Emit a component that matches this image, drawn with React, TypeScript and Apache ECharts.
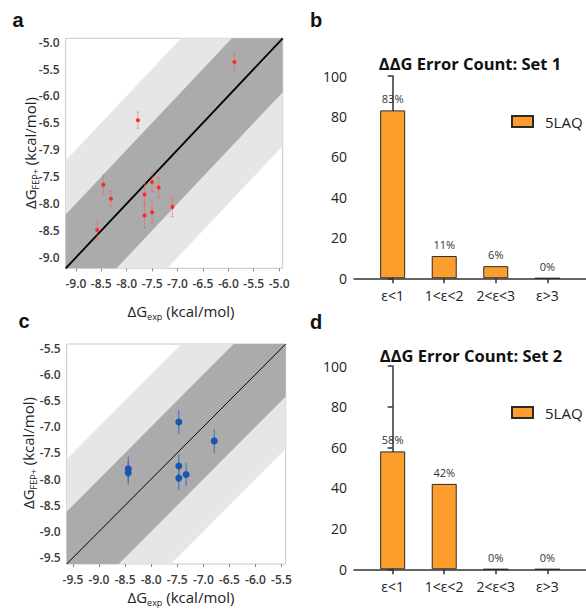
import React, { useEffect, useRef } from "react";
import * as echarts from "echarts";

// ---------- Panel a data (red) ----------
const expA = [-5.88, -7.78, -8.46, -8.31, -8.58, -7.65, -7.65, -7.5, -7.5, -7.37, -7.1];
const fepA = [-5.37, -6.45, -7.65, -7.91, -8.49, -7.83, -8.22, -7.6, -8.16, -7.7, -8.06];
const errA = [0.17, 0.15, 0.18, 0.15, 0.17, 0.21, 0.23, 0.18, 0.2, 0.18, 0.18];
const rangeA = [-9.2, -4.93];
const tickValsA = [-9.0, -8.5, -8.0, -7.5, -7.0, -6.5, -6.0, -5.5, -5.0];
const xTickLabelsA = ["-9.0", "-8.5", "-8.0", "-7.5", "-7.0", "-6.5", "-6.0", "-5.5", "-5.0"];
const yTickLabelsA = ["-9.0", "-8.5", "-8.0", "-7.5", "-7.9", "-6.5", "-6.0", "-5.5", "-5.0"];

// ---------- Panel c data (blue) ----------
const expC = [-7.47, -6.79, -8.44, -8.44, -7.47, -7.47, -7.33];
const fepC = [-6.91, -7.27, -7.8, -7.88, -7.75, -7.98, -7.91];
const errC = [0.23, 0.23, 0.23, 0.23, 0.23, 0.23, 0.22];
const rangeC = [-9.62, -5.42];
const tickValsC = [-9.5, -9.0, -8.5, -8.0, -7.5, -7.0, -6.5, -6.0, -5.5];
const tickLabelsC = ["-9.5", "-9.0", "-8.5", "-8.0", "-7.5", "-7.0", "-6.5", "-6.0", "-5.5"];

// error bands (kcal/mol half-widths)
const bandHalfWidths = [2, 1];

// ---------- Bar panels ----------
const categories = ["ε<1", "1<ε<2", "2<ε<3", "ε>3"];
const set1 = [83, 11, 6, 0];
const set2 = [58, 42, 0, 0];
const barTicks = [0, 20, 40, 60, 80, 100];
const seriesName = "5LAQ";

const FONT = "'Open Sans', 'Noto Sans', sans-serif";
const LETTER_FONT = "'Liberation Sans', Arial, sans-serif";
const BAND_COLORS = ["#e6e6e6", "#ababab"];
const ORANGE = "#fd9e2c";

const labelFrom = (vals: number[], labels: string[]) => (v: number) => {
  const i = vals.findIndex((t) => Math.abs(t - v) < 1e-6);
  return i >= 0 ? labels[i] : "";
};

function scatterAxes(gi: number, range: number[], vals: number[], xl: string[], yl: string[]) {
  const common = {
    gridIndex: gi,
    type: "value",
    min: range[0],
    max: range[1],
    axisLine: { show: false },
    splitLine: { show: false },
  };
  const labelStyle = { fontSize: 12, fontWeight: 600, color: "#3a3a3a", fontFamily: FONT };
  return {
    x: {
      ...common,
      axisTick: { show: true, customValues: vals, length: 3, lineStyle: { color: "#888" } },
      axisLabel: { ...labelStyle, customValues: vals, formatter: labelFrom(vals, xl), margin: 9 },
    },
    y: {
      ...common,
      axisTick: { show: false, customValues: vals },
      axisLabel: { ...labelStyle, customValues: vals, formatter: labelFrom(vals, yl), margin: 6 },
    },
  };
}

function scatterSeries(gi: number, range: number[], xs: number[], ys: number[], es: number[], color: string, barColor: string, size: number, lineW: number, cap: number) {
  const lo = range[0];
  const hi = range[1];
  return [
    {
      type: "custom",
      xAxisIndex: gi,
      yAxisIndex: gi,
      z: 1,
      silent: true,
      data: bandHalfWidths.map((h) => [h]),
      renderItem: (params: any, api: any) => {
        const h = api.value(0);
        const pts = [
          [lo, lo],
          [lo, lo + h],
          [hi - h, hi],
          [hi, hi],
          [hi, hi - h],
          [lo + h, lo],
        ].map((p) => api.coord(p));
        return {
          type: "polygon",
          shape: { points: pts },
          style: { fill: BAND_COLORS[params.dataIndex], stroke: null },
        };
      },
    },
    {
      type: "line",
      xAxisIndex: gi,
      yAxisIndex: gi,
      z: 2,
      symbol: "none",
      silent: true,
      data: [
        [lo, lo],
        [hi, hi],
      ],
      lineStyle: { color: "#000", width: lineW },
    },
    {
      type: "custom",
      xAxisIndex: gi,
      yAxisIndex: gi,
      z: 3,
      silent: true,
      data: xs.map((x, i) => [x, ys[i], es[i]]),
      renderItem: (params: any, api: any) => {
        const x = api.value(0);
        const y = api.value(1);
        const e = api.value(2);
        const p1 = api.coord([x, y - e]);
        const p2 = api.coord([x, y + e]);
        const st = { stroke: barColor, lineWidth: 1 };
        const children: any[] = [
          { type: "line", shape: { x1: p1[0], y1: p1[1], x2: p2[0], y2: p2[1] }, style: st },
        ];
        if (cap > 0) {
          children.push({ type: "line", shape: { x1: p1[0] - cap, y1: p1[1], x2: p1[0] + cap, y2: p1[1] }, style: st });
          children.push({ type: "line", shape: { x1: p2[0] - cap, y1: p2[1], x2: p2[0] + cap, y2: p2[1] }, style: st });
        }
        return { type: "group", children };
      },
    },
    {
      type: "scatter",
      xAxisIndex: gi,
      yAxisIndex: gi,
      z: 4,
      symbolSize: size,
      itemStyle: { color, opacity: 1 },
      data: xs.map((x, i) => [x, ys[i]]),
    },
  ];
}

function barAxes(gi: number) {
  return {
    x: {
      gridIndex: gi,
      type: "value",
      min: -0.75,
      max: 3.75,
      splitLine: { show: false },
      axisLine: { show: true, lineStyle: { color: "#333", width: 1.5 } },
      axisTick: { show: true, customValues: [0, 1, 2, 3], length: 5, lineStyle: { color: "#333", width: 1.5 } },
      axisLabel: {
        customValues: [0, 1, 2, 3],
        formatter: (v: number) => categories[Math.round(v)] ?? "",
        fontSize: 14,
        color: "#222",
        fontFamily: FONT,
        margin: 10,
      },
    },
    y: {
      gridIndex: gi,
      type: "value",
      min: 0,
      max: 100,
      interval: 20,
      splitLine: { show: false },
      axisLine: { show: true, lineStyle: { color: "#333", width: 1.5 } },
      axisTick: { show: true, length: 5, lineStyle: { color: "#333", width: 1.5 } },
      axisLabel: {
        customValues: barTicks,
        fontSize: 14,
        color: "#222",
        fontFamily: FONT,
        margin: 7,
      },
    },
  };
}

function barSeries(gi: number, values: number[]) {
  return {
    type: "bar",
    name: seriesName,
    xAxisIndex: gi,
    yAxisIndex: gi,
    barWidth: 25,
    data: values.map((v, i) => [i, v]),
    itemStyle: { color: ORANGE, borderColor: "#2a2a2a", borderWidth: 1 },
    label: {
      show: true,
      position: "top",
      distance: 6,
      formatter: (p: any) => p.value[1] + "%",
      fontSize: 11,
      color: "#333",
      fontFamily: FONT,
    },
  };
}

const axisTitle = (sub: string) => ({
  text: `{n|ΔG}{s|${sub}}{n| (kcal/mol)}`,
  rich: {
    n: { fontSize: 15, fontFamily: FONT, fill: "#222", lineHeight: 20, verticalAlign: "bottom" },
    s: { fontSize: 9, fontFamily: FONT, fill: "#222", lineHeight: 20, verticalAlign: "bottom", padding: [0, 0, -3, 0] },
  },
  align: "center",
  verticalAlign: "middle",
});

const letter = (t: string, x: number, y: number) => ({
  type: "text",
  x,
  y,
  style: { text: t, fontSize: 20, fontWeight: "bold", fontFamily: LETTER_FONT, fill: "#111", align: "center", verticalAlign: "middle" },
});

const barTitle = (t: string, x: number, y: number) => ({
  type: "text",
  x,
  y,
  style: { text: t, fontSize: 16.5, fontWeight: "bold", fontFamily: FONT, fill: "#111", align: "center", verticalAlign: "middle" },
});

export default function App() {
  const ref = useRef<HTMLDivElement>(null);
  useEffect(() => {
    if (!ref.current) return;
    const chart = echarts.init(ref.current, null, { renderer: "svg" });
    const aA = scatterAxes(0, rangeA, tickValsA, xTickLabelsA, yTickLabelsA);
    const aB = barAxes(1);
    const aC = scatterAxes(2, rangeC, tickValsC, tickLabelsC, tickLabelsC);
    const aD = barAxes(3);
    const legendBase = {
      left: 511,
      padding: 0,
      itemWidth: 21,
      itemHeight: 11,
      icon: "rect",
      data: [seriesName],
      selectedMode: false,
      textStyle: { fontSize: 15, color: "#222", fontFamily: FONT, padding: [0, 0, 0, 7] },
    };
    const option: any = {
      animation: false,
      backgroundColor: "#fff",
      grid: [
        { left: 65.7, top: 38.3, width: 217, height: 230, show: true, borderColor: "#c8c8c8", borderWidth: 1 },
        { left: 354, top: 76, width: 232, height: 202.3 },
        { left: 66.7, top: 344, width: 219, height: 220, show: true, borderColor: "#c8c8c8", borderWidth: 1 },
        { left: 354, top: 366, width: 232, height: 203.3 },
      ],
      xAxis: [aA.x, aB.x, aC.x, aD.x],
      yAxis: [aA.y, aB.y, aC.y, aD.y],
      legend: [
        { ...legendBase, top: 114 },
        { ...legendBase, top: 405 },
      ],
      series: [
        ...scatterSeries(0, rangeA, expA, fepA, errA, "#ff2a1f", "rgba(255,90,80,0.5)", 4, 1.8, 1.5),
        barSeries(1, set1),
        ...scatterSeries(2, rangeC, expC, fepC, errC, "#1b55b0", "#3a70c8", 7, 1, 0),
        barSeries(3, set2),
      ],
      graphic: [
        letter("a", 18, 20),
        letter("b", 316, 20),
        letter("c", 24, 321),
        letter("d", 316, 322),
        barTitle("ΔΔG Error Count: Set 1", 470, 63),
        barTitle("ΔΔG Error Count: Set 2", 471, 355),
        { type: "text", x: 181, y: 308, style: axisTitle("exp") },
        { type: "text", x: 181, y: 594, style: axisTitle("exp") },
        { type: "text", x: 27, y: 153, rotation: Math.PI / 2, style: axisTitle("FEP+") },
        { type: "text", x: 25, y: 453, rotation: Math.PI / 2, style: axisTitle("FEP+") },
      ],
    };
    chart.setOption(option);
    return () => chart.dispose();
  }, []);
  return <div ref={ref} style={{ position: "fixed", left: 0, top: 0, width: 586, height: 609 }} />;
}
